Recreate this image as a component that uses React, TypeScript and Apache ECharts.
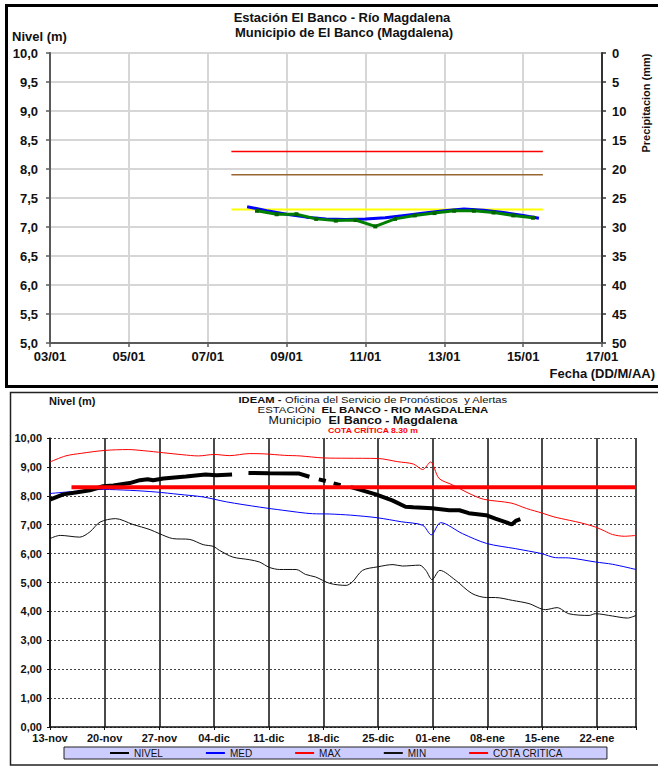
import React, { useEffect, useRef } from 'react';
import * as echarts from 'echarts';

const FONT = 'Arial, "Liberation Sans", Helvetica, sans-serif';

// ---------- Top chart (Estación El Banco) ----------
const topTitle1 = 'Estación El Banco - Río Magdalena';
const topTitle2 = 'Municipio de El Banco (Magdalena)';
const topBaseDay = 3; // 03/01
const topTickLabels = ['03/01', '05/01', '07/01', '09/01', '11/01', '13/01', '15/01', '17/01'];
const topThresholdSpan = [7.6, 15.5];
const topRedLevel = 8.3;
const topBrownLevel = 7.9;
const topYellowLevel = 7.3;
// [day of January, level m]
const topBlueLevel = [
  [8.0, 7.35], [8.5, 7.28], [9.0, 7.22], [9.5, 7.17], [10.0, 7.14], [10.5, 7.13],
  [11.0, 7.14], [11.5, 7.16], [12.0, 7.2], [12.5, 7.24], [13.0, 7.28], [13.5, 7.31],
  [14.0, 7.29], [14.5, 7.25], [15.0, 7.2], [15.4, 7.15],
];
const topGreenLevel = [
  [8.25, 7.28], [8.75, 7.22], [9.25, 7.22], [9.75, 7.14], [10.25, 7.11], [10.75, 7.12],
  [11.25, 7.01], [11.75, 7.14], [12.25, 7.2], [12.75, 7.24], [13.25, 7.28], [13.75, 7.28],
  [14.25, 7.25], [14.75, 7.2], [15.25, 7.16],
];

// ---------- Bottom chart (IDEAM) ----------
const bottomTickLabels = ['13-nov', '20-nov', '27-nov', '04-dic', '11-dic', '18-dic', '25-dic', '01-ene', '08-ene', '15-ene', '22-ene'];
const bottomSpanDays = 75;
// [days since 13-nov, level m]
const nivelData = [
  [0, 7.87], [1.7, 8.05], [3.5, 8.12], [5.1, 8.19], [6.8, 8.33], [8.1, 8.36], [10.2, 8.44],
  [11.5, 8.54], [12.5, 8.57], [13.2, 8.54], [14.5, 8.6], [17.4, 8.67], [19.9, 8.74], [21.3, 8.71],
  [23.3, 8.74], [24.3, null], [25.4, 8.79], [28, 8.78], [31.9, 8.77], [33.2, 8.66], [33.8, null],
  [34.4, 8.57], [35.3, 8.51], [35.8, null], [36.3, 8.43], [37.2, 8.37], [37.8, null],
  [38.5, 8.3], [39.2, 8.25], [41.7, 8.05], [43.8, 7.84], [45.5, 7.62], [46.5, 7.6], [48.9, 7.57],
  [51.1, 7.5], [52.4, 7.5], [53.6, 7.4], [55.8, 7.33], [57, 7.21], [58.3, 7.09], [59.1, 7.01],
  [59.6, 7.13], [60.2, 7.19],
];
const medData = [
  [0, 8.08], [3, 8.15], [6.8, 8.22], [10.2, 8.19], [13.6, 8.13], [16.5, 8.05], [19.6, 7.96],
  [22.6, 7.79], [26.8, 7.61], [29.8, 7.5], [33.6, 7.38], [35.8, 7.37], [38.5, 7.33], [41.9, 7.24],
  [45, 7.1], [47.7, 6.98], [48.8, 6.65], [50, 7.07], [52.8, 6.69], [55.9, 6.35], [59.6, 6.17],
  [62.9, 6.0], [64.7, 5.86], [66.4, 5.85], [69.8, 5.71], [72, 5.63], [75, 5.45],
];
const maxData = [
  [0, 9.17], [2, 9.38], [4, 9.47], [7, 9.57], [10, 9.6], [12, 9.56], [14.5, 9.49], [17, 9.42],
  [19, 9.38], [21, 9.43], [23, 9.39], [25.5, 9.46], [27.5, 9.45], [30, 9.4], [32, 9.38], [35, 9.31],
  [38, 9.3], [42, 9.29], [44.5, 9.18], [46.5, 9.1], [47.7, 8.91], [48.7, 9.17], [49.8, 8.6],
  [51.5, 8.38], [53.5, 8.1], [55.5, 7.88], [59, 7.75], [61, 7.56], [63, 7.4], [64.5, 7.27],
  [66.5, 7.15], [68, 7.06], [69.8, 6.92], [71, 6.78], [72, 6.66], [73.5, 6.6], [75, 6.63],
];
const minData = [
  [0, 6.52], [1.3, 6.63], [3.8, 6.57], [5.1, 6.75], [6.4, 7.09], [8.4, 7.21], [10.6, 7.01],
  [12.8, 6.83], [14, 6.69], [15.7, 6.52], [17.9, 6.49], [19.6, 6.31], [20.9, 6.25], [21.7, 6.11],
  [23.4, 5.88], [25.5, 5.79], [26.8, 5.71], [28.1, 5.52], [29.4, 5.45], [31.5, 5.45], [32.7, 5.28],
  [34, 5.19], [35.8, 4.97], [37.9, 4.9], [38.7, 5.02], [40, 5.42], [41.9, 5.54], [43.9, 5.62],
  [45.1, 5.57], [47.3, 5.6], [48.1, 5.42], [48.9, 5.1], [49.9, 5.42], [51.9, 5.08], [54, 4.62],
  [55.9, 4.48], [57, 4.48], [59.2, 4.38], [61.3, 4.27], [63.4, 4.06], [64.9, 4.13], [66.4, 3.92],
  [69, 3.86], [69.8, 3.92], [72, 3.84], [73.9, 3.77], [75, 3.86],
];
const cotaCritica = 8.3;
const cotaSpan = [2.75, 75];

const App: React.FC = () => {
  const ref = useRef<HTMLDivElement>(null);

  useEffect(() => {
    if (!ref.current) return;
    const chart = echarts.init(ref.current, undefined, { renderer: 'svg' });

    const bold = (size: number) => ({ fontFamily: FONT, fontWeight: 'bold' as const, fontSize: size, color: '#111' });
    const richPair = (size: number) => ({
      b: { fontFamily: FONT, fontWeight: 'bold', fontSize: size, lineHeight: size, fill: '#111' },
      r: { fontFamily: FONT, fontSize: size, lineHeight: size, fill: '#111' },
    });

    const option: any = {
      animation: false,
      backgroundColor: '#ffffff',
      grid: [
        { left: 50, top: 53, width: 552, height: 290 },
        { left: 50, top: 438, width: 586, height: 289 },
      ],
      legend: {
        data: ['NIVEL', 'MED', 'MAX', 'MIN', 'COTA CRITICA'],
        left: 64,
        top: 747,
        orient: 'horizontal',
        itemWidth: 19,
        itemHeight: 8,
        itemGap: 42,
        padding: [1, 44, 1, 45],
        backgroundColor: '#ccccff',
        borderColor: '#222',
        borderWidth: 1,
        borderRadius: 0,
        itemStyle: { opacity: 0 },
        textStyle: { fontFamily: FONT, fontSize: 10, color: '#111' },
      },
      xAxis: [
        {
          gridIndex: 0,
          type: 'value',
          min: 0,
          max: 14,
          interval: 2,
          axisLine: { show: true, onZero: false, lineStyle: { color: '#5a5a5a', width: 2 } },
          axisTick: { show: true, length: 4, lineStyle: { color: '#5a5a5a', width: 1.5 } },
          axisLabel: {
            ...bold(13),
            margin: 7,
            formatter: (v: number) => topTickLabels[Math.round(v / 2)] ?? '',
          },
          splitLine: { show: true, lineStyle: { color: '#d6d6d6', width: 2 } },
        },
        {
          gridIndex: 1,
          type: 'value',
          min: 0,
          max: bottomSpanDays,
          interval: 7,
          axisLine: { show: true, onZero: false, lineStyle: { color: '#111', width: 1.5 } },
          axisTick: { show: true, length: 3, lineStyle: { color: '#111', width: 1 } },
          axisLabel: {
            ...bold(11),
            margin: 5,
            formatter: (v: number) => (v % 7 === 0 ? bottomTickLabels[v / 7] ?? '' : ''),
          },
          splitLine: { show: true, lineStyle: { color: '#4a4a4a', width: 2 } },
        },
      ],
      yAxis: [
        {
          gridIndex: 0,
          type: 'value',
          min: 5,
          max: 10,
          interval: 0.5,
          position: 'left',
          axisLine: { show: true, lineStyle: { color: '#5a5a5a', width: 2 } },
          axisTick: { show: true, length: 4, lineStyle: { color: '#5a5a5a', width: 1.5 } },
          axisLabel: { ...bold(13), margin: 12, formatter: (v: number) => v.toFixed(1).replace('.', ',') },
          splitLine: { show: true, lineStyle: { color: '#d6d6d6', width: 2 } },
        },
        {
          gridIndex: 0,
          type: 'value',
          min: 0,
          max: 50,
          interval: 5,
          inverse: true,
          position: 'right',
          axisLine: { show: true, lineStyle: { color: '#333', width: 2 } },
          axisTick: { show: true, length: 4, lineStyle: { color: '#333', width: 1.5 } },
          axisLabel: { ...bold(13), margin: 10, formatter: (v: number) => String(v) },
          splitLine: { show: false },
        },
        {
          gridIndex: 1,
          type: 'value',
          min: 0,
          max: 10,
          interval: 1,
          axisLine: { show: true, lineStyle: { color: '#111', width: 1.5 } },
          axisTick: { show: true, length: 3, lineStyle: { color: '#111', width: 1 } },
          axisLabel: { ...bold(11), margin: 8, formatter: (v: number) => v.toFixed(2).replace('.', ',') },
          splitLine: { show: true, lineStyle: { color: '#444', width: 1, type: [2, 2] } },
        },
      ],
      series: [
        // top chart
        {
          name: 'Umbral rojo', type: 'line', xAxisIndex: 0, yAxisIndex: 0, symbol: 'none',
          data: topThresholdSpan.map((d) => [d - topBaseDay, topRedLevel]),
          lineStyle: { color: '#ff0000', width: 1.5 },
        },
        {
          name: 'Umbral café', type: 'line', xAxisIndex: 0, yAxisIndex: 0, symbol: 'none',
          data: topThresholdSpan.map((d) => [d - topBaseDay, topBrownLevel]),
          lineStyle: { color: '#996633', width: 1.5 },
        },
        {
          name: 'Umbral amarillo', type: 'line', xAxisIndex: 0, yAxisIndex: 0, symbol: 'none',
          data: topThresholdSpan.map((d) => [d - topBaseDay, topYellowLevel]),
          lineStyle: { color: '#ffff00', width: 2 },
        },
        {
          name: 'Nivel azul', type: 'line', xAxisIndex: 0, yAxisIndex: 0, symbol: 'none',
          data: topBlueLevel.map(([d, v]) => [d - topBaseDay, v]),
          lineStyle: { color: '#0000ff', width: 3 },
        },
        {
          name: 'Nivel verde', type: 'line', xAxisIndex: 0, yAxisIndex: 0,
          symbol: 'rect', symbolSize: 4, showSymbol: true,
          itemStyle: { color: '#006400' },
          data: topGreenLevel.map(([d, v]) => [d - topBaseDay, v]),
          lineStyle: { color: '#008000', width: 3 },
        },
        // bottom chart
        {
          name: 'MAX', type: 'line', xAxisIndex: 1, yAxisIndex: 2, symbol: 'none', smooth: 0.3,
          data: maxData, lineStyle: { color: '#ff0000', width: 1 }, itemStyle: { color: '#ff0000' },
        },
        {
          name: 'MED', type: 'line', xAxisIndex: 1, yAxisIndex: 2, symbol: 'none', smooth: 0.3,
          data: medData, lineStyle: { color: '#0000ff', width: 1 }, itemStyle: { color: '#0000ff' },
        },
        {
          name: 'MIN', type: 'line', xAxisIndex: 1, yAxisIndex: 2, symbol: 'none', smooth: 0.3,
          data: minData, lineStyle: { color: '#111111', width: 1 }, itemStyle: { color: '#333333' },
        },
        {
          name: 'NIVEL', type: 'line', xAxisIndex: 1, yAxisIndex: 2, symbol: 'none', connectNulls: false,
          data: nivelData, lineStyle: { color: '#000000', width: 4 }, itemStyle: { color: '#000000' },
        },
        {
          name: 'COTA CRITICA', type: 'line', xAxisIndex: 1, yAxisIndex: 2, symbol: 'none',
          data: cotaSpan.map((d) => [d, cotaCritica]),
          lineStyle: { color: '#ff0000', width: 4 }, itemStyle: { color: '#ff0000' },
        },
      ],
      graphic: [
        {
          type: 'rect', z: 100,
          shape: { x: 6.5, y: 5.5, width: 700, height: 381 },
          style: { fill: 'none', stroke: '#000', lineWidth: 3 },
        },
        {
          type: 'rect', z: 100,
          shape: { x: 10.5, y: 392.5, width: 700, height: 372.5 },
          style: { fill: 'none', stroke: '#222', lineWidth: 1.5 },
        },
        {
          type: 'text', x: 342, y: 17,
          style: { text: topTitle1, font: `bold 13px ${FONT}`, fill: '#111', align: 'center', verticalAlign: 'middle' },
        },
        {
          type: 'text', x: 344, y: 32,
          style: { text: topTitle2, font: `bold 13px ${FONT}`, fill: '#111', align: 'center', verticalAlign: 'middle' },
        },
        {
          type: 'text', x: 12, y: 36,
          style: { text: 'Nivel (m)', font: `bold 13px ${FONT}`, fill: '#111', align: 'left', verticalAlign: 'middle' },
        },
        {
          type: 'text', x: 646, y: 103, rotation: Math.PI / 2,
          style: { text: 'Precipitacion (mm)', font: `bold 11px ${FONT}`, fill: '#111', align: 'center', verticalAlign: 'middle' },
        },
        {
          type: 'text', x: 655, y: 373,
          style: { text: 'Fecha (DD/M/AA)', font: `bold 13px ${FONT}`, fill: '#111', align: 'right', verticalAlign: 'middle' },
        },
        {
          type: 'text', x: 49, y: 401,
          style: { text: 'Nivel (m)', font: `bold 11px ${FONT}`, fill: '#111', align: 'left', verticalAlign: 'middle' },
        },
        {
          type: 'text', x: 373, y: 399.5, scaleX: 1.18,
          style: {
            text: '{b|IDEAM - }{r|Oficina del Servicio de Pronósticos  y Alertas}',
            align: 'center', verticalAlign: 'middle',
            rich: richPair(9.5),
          },
        },
        {
          type: 'text', x: 373, y: 410, scaleX: 1.2,
          style: {
            text: '{r|ESTACIÓN  }{b|EL BANCO - RIO MAGDALENA}',
            align: 'center', verticalAlign: 'middle',
            rich: richPair(9.5),
          },
        },
        {
          type: 'text', x: 363, y: 420.5, scaleX: 1.25,
          style: {
            text: '{r|Municipio  }{b|El Banco - Magdalena}',
            align: 'center', verticalAlign: 'middle',
            rich: richPair(10),
          },
        },
        {
          type: 'text', x: 373, y: 430.5, scaleX: 1.08,
          style: { text: 'COTA CRÍTICA 8.30 m', font: `bold 8px ${FONT}`, lineHeight: 8, fill: '#ff0000', align: 'center', verticalAlign: 'middle' },
        },
      ],
    };

    chart.setOption(option);
    return () => chart.dispose();
  }, []);

  return <div ref={ref} style={{ position: 'absolute', left: 0, top: 0, width: 658, height: 767 }} />;
};

export default App;
